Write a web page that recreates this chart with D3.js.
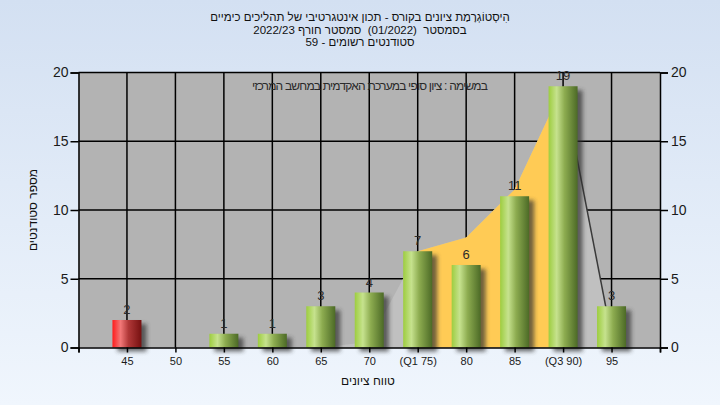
<!DOCTYPE html>
<html><head><meta charset="utf-8">
<script src="https://cdn.jsdelivr.net/npm/d3@7"></script>
<style>
html,body{margin:0;padding:0;}
body{width:720px;height:405px;overflow:hidden;}
text{font-family:"Liberation Sans",Arial,sans-serif;white-space:pre;}
</style></head>
<body>
<svg id="chart" width="720" height="405"></svg>
<script>
// ---- data ----
const categories = [45, 50, 55, 60, 65, 70, 75, 80, 85, 90, 95];
const tickLabels = ["45", "50", "55", "60", "65", "70", "(Q1 75)", "80", "85", "(Q3 90)", "95"];
const counts = [2, 0, 1, 1, 3, 4, 7, 6, 11, 19, 3];
const failing = [true, false, false, false, false, false, false, false, false, false, false];
// background distribution area
const areaX = [65, 70, 75, 80, 85, 90, 95];
const areaY = [0, 0.4, 7, 8, 11.5, 19, 0.8];
const q1 = 75, q3 = 90;
const yTicks = [0, 5, 10, 15, 20];
const titleLines = [
  "הִיסְטוֹגְרָמַת ציונים בקורס - תכון אינטגרטיבי של תהליכים כימיים",
  "בסמסטר  (01/2022)  סמסטר חורף 2022/23",
  "סטודנטים רשומים - 59"
];
const noteText = "במשימה : ציון סופי במערכת האקדמית במחשב המרכזי";
const yTitle = "מספר סטודנטים";
const xTitle = "טווח ציונים";

// ---- layout ----
const svg = d3.select("#chart");
const L = 78.5, R = 660, T = 72.5, B = 347.5;
const x = d3.scaleLinear().domain([40, 100]).range([L, R]);
const y = d3.scaleLinear().domain([0, 20]).range([B, T]);
const barW = 29;

const defs = svg.append("defs");
const bg = defs.append("linearGradient").attr("id", "bg").attr("x1", 0).attr("y1", 0).attr("x2", 0).attr("y2", 1);
bg.append("stop").attr("offset", "0%").attr("stop-color", "#d3e0f2");
bg.append("stop").attr("offset", "100%").attr("stop-color", "#f0f6fd");

function barGrad(id, c0, c1, c2, c3) {
  const g = defs.append("linearGradient").attr("id", id).attr("x1", 0).attr("y1", 0).attr("x2", 1).attr("y2", 0);
  g.append("stop").attr("offset", "0%").attr("stop-color", c0);
  g.append("stop").attr("offset", "28%").attr("stop-color", c1);
  g.append("stop").attr("offset", "55%").attr("stop-color", c2);
  g.append("stop").attr("offset", "100%").attr("stop-color", c3);
}
barGrad("gGreen", "#9dcd3f", "#c6e28e", "#8dac50", "#4c6a26");
barGrad("gRed", "#ff1c1c", "#f27878", "#b13838", "#761010");

const blur = defs.append("filter").attr("id", "shadow").attr("x", "-50%").attr("y", "-50%").attr("width", "200%").attr("height", "200%");
blur.append("feGaussianBlur").attr("stdDeviation", 2);

svg.append("rect").attr("width", 720).attr("height", 405).attr("fill", "url(#bg)");

// plot background
svg.append("rect").attr("x", L).attr("y", T).attr("width", R - L).attr("height", B - T).attr("fill", "#b3b3b3");

// gridlines
const grid = svg.append("g").attr("stroke", "#000").attr("stroke-width", 1.5);
grid.selectAll("line.v").data(categories).join("line")
  .attr("x1", d => x(d)).attr("x2", d => x(d)).attr("y1", T).attr("y2", B);
grid.selectAll("line.h").data(yTicks.slice(1)).join("line")
  .attr("x1", L).attr("x2", R).attr("y1", d => y(d)).attr("y2", d => y(d));

// note text
svg.append("text").attr("x", 370).attr("y", 90).attr("text-anchor", "middle").attr("direction", "rtl")
  .attr("font-size", 12).attr("fill", "#2a2a2a").attr("textLength", 236).text(noteText);

// distribution area
const pts = areaX.map((d, i) => [d, areaY[i]]);
const area = d3.area().x(d => x(d[0])).y0(y(0)).y1(d => y(d[1]));
svg.append("path").datum(pts).attr("d", area).attr("fill", "#c0c0c0");
const inner = pts.filter(d => d[0] >= q1 && d[0] <= q3);
svg.append("path").datum(inner).attr("d", area).attr("fill", "#ffcb55");
const tail = pts.filter(d => d[0] >= q3);
svg.append("path").datum(tail).attr("d", d3.line().x(d => x(d[0])).y(d => y(d[1])))
  .attr("fill", "none").attr("stroke", "#3a3a3a").attr("stroke-width", 1.5);

// bars
const data = categories.map((c, i) => ({c, v: counts[i], f: failing[i]})).filter(d => d.v > 0);
svg.append("g").selectAll("rect").data(data).join("rect")
  .attr("x", d => x(d.c) - barW / 2 + 5).attr("y", d => y(d.v) + 4)
  .attr("width", barW).attr("height", d => y(0) - y(d.v))
  .attr("fill", "#303030").attr("opacity", 0.7).attr("filter", "url(#shadow)");
svg.append("g").selectAll("rect").data(data).join("rect")
  .attr("x", d => x(d.c) - barW / 2).attr("y", d => y(d.v))
  .attr("width", barW).attr("height", d => y(0) - y(d.v))
  .attr("fill", d => d.f ? "url(#gRed)" : "url(#gGreen)");

// value labels
svg.append("g").selectAll("text").data(data).join("text")
  .attr("x", d => x(d.c)).attr("y", d => y(d.v) - 6)
  .attr("text-anchor", "middle").attr("font-size", 13).attr("fill", "#2b2b2b")
  .text(d => d.v);

// axes
const axL = svg.append("g").attr("transform", `translate(${L},0)`)
  .call(d3.axisLeft(y).tickValues(yTicks).tickSize(8).tickPadding(2).tickFormat(d3.format("d")));
const axR = svg.append("g").attr("transform", `translate(${R},0)`)
  .call(d3.axisRight(y).tickValues(yTicks).tickSize(8).tickPadding(3).tickFormat(d3.format("d")));
[axL, axR].forEach(a => {
  a.select(".domain").attr("stroke", "#000").attr("stroke-width", 1.5);
  a.selectAll(".tick line").attr("stroke", "#000").attr("stroke-width", 1.5);
  a.selectAll("text").attr("font-size", 14).attr("fill", "#1a1a1a").attr("font-family", "Liberation Sans, Arial, sans-serif");
});
const axB = svg.append("g").attr("transform", `translate(0,${B})`)
  .call(d3.axisBottom(x).tickValues([40].concat(categories, [100])).tickSize(5).tickPadding(5)
    .tickFormat(d => { const i = categories.indexOf(d); return i >= 0 ? tickLabels[i] : ""; }));
axB.select(".domain").attr("stroke", "#000").attr("stroke-width", 1.5);
axB.selectAll(".tick line").attr("stroke", "#000").attr("stroke-width", 1.5);
axB.selectAll("text").attr("font-size", 11).attr("fill", "#1a1a1a").attr("font-family", "Liberation Sans, Arial, sans-serif");

// titles
svg.append("g").selectAll("text").data(titleLines).join("text")
  .attr("x", 360).attr("y", (d, i) => 21 + i * 12.5).attr("text-anchor", "middle").attr("direction", "rtl")
  .attr("font-size", 11.5).attr("fill", "#111").text(d => d);
svg.append("text").attr("transform", "translate(37,210) rotate(-90)").attr("text-anchor", "middle")
  .attr("direction", "rtl").attr("font-size", 12).attr("fill", "#111").text(yTitle);
svg.append("text").attr("x", 368).attr("y", 385).attr("text-anchor", "middle").attr("direction", "rtl")
  .attr("font-size", 12).attr("fill", "#111").text(xTitle);
</script>
</body></html>
